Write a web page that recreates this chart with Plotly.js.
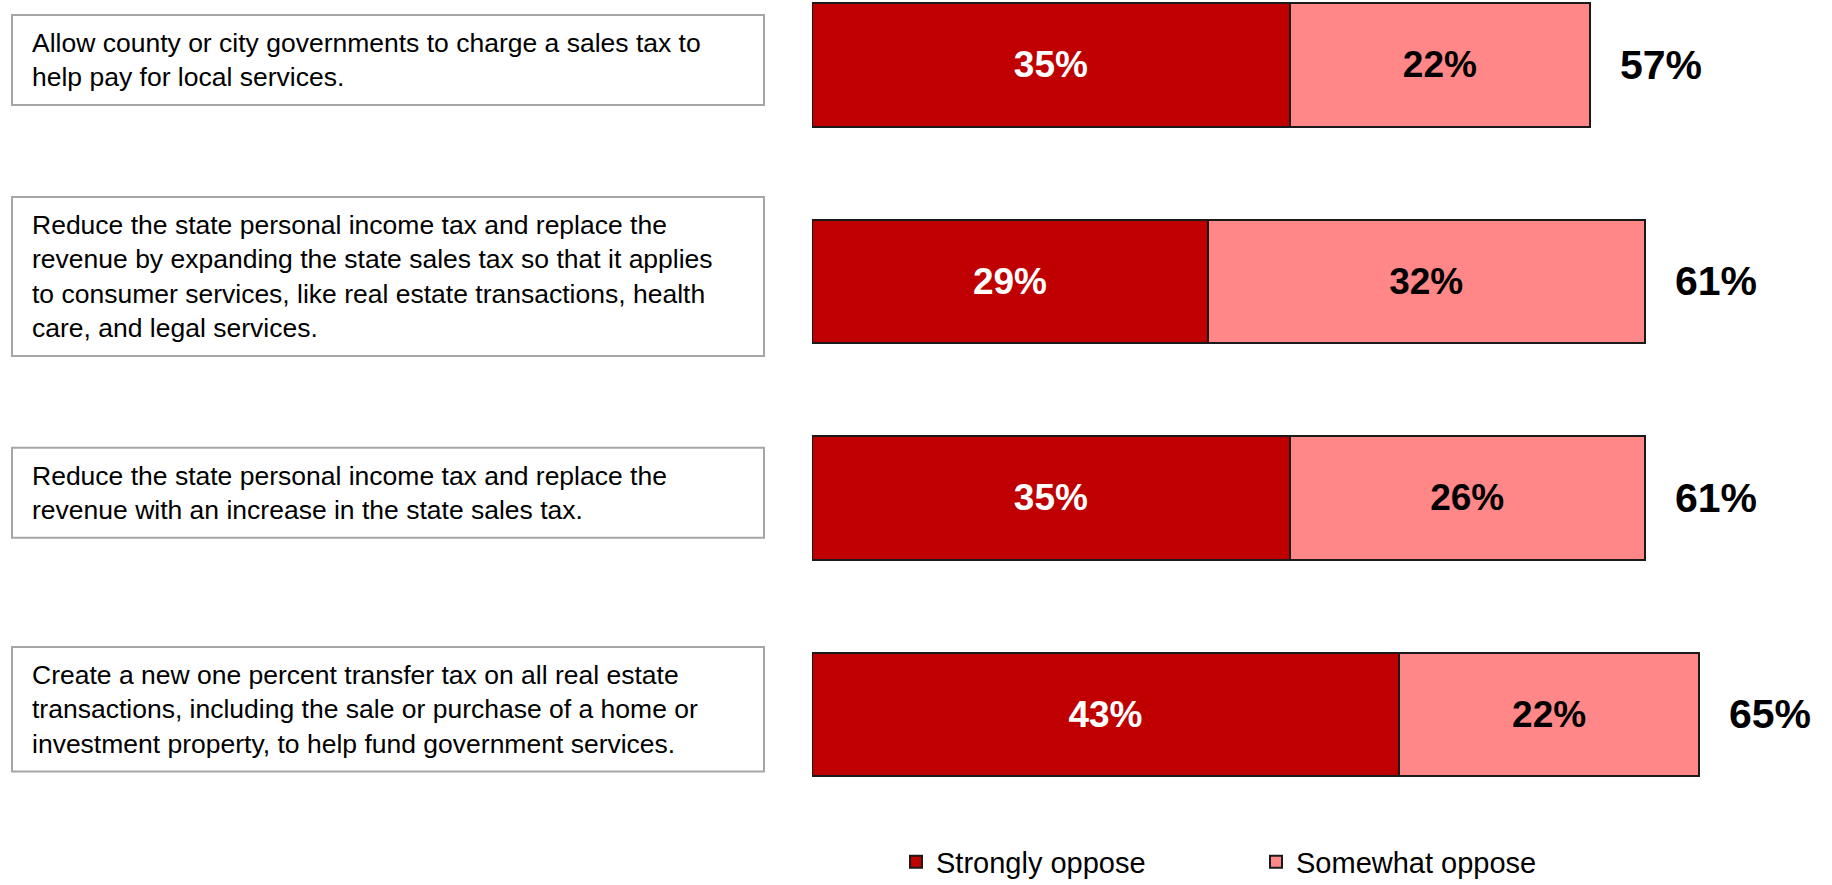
<!DOCTYPE html>
<html>
<head>
<meta charset="utf-8">
<script src="https://cdn.plot.ly/plotly-3.0.1.min.js"></script>
<style>html,body{margin:0;padding:0;background:#fff;}#chart{width:1832px;height:885px;}</style>
</head>
<body>
<div id="chart"></div>
<script>
const categories = [
  "Allow county or city governments to charge a sales tax to<br>help pay for local services.",
  "Reduce the state personal income tax and replace the<br>revenue by expanding the state sales tax so that it applies<br>to consumer services, like real estate transactions, health<br>care, and legal services.",
  "Reduce the state personal income tax and replace the<br>revenue with an increase in the state sales tax.",
  "Create a new one percent transfer tax on all real estate<br>transactions, including the sale or purchase of a home or<br>investment property, to help fund government services."
];
const seriesNames = ["Strongly oppose", "Somewhat oppose"];
const stronglyOppose = [35, 29, 35, 43];
const somewhatOppose = [22, 32, 26, 22];
const totals = [57, 61, 61, 65];

const FONT = "Liberation Sans, Arial, sans-serif";
const W = 1832, H = 885;
const ML = 812, MT = 0, MB = 85;
const PW = W - ML, PH = H - MT - MB;
const yTop = -0.3, yBot = 3.396;
const pxPerCat = PH / (yBot - yTop);

function px2x(px) { return (px - ML) / PW; }
function py2y(py) { return 1 - (py - MT) / PH; }
function catCenterPx(i) { return MT + (i - yTop) * pxPerCat; }

const traces = [
  {
    type: "bar", orientation: "h", name: seriesNames[0],
    y: categories, x: stronglyOppose,
    text: stronglyOppose.map(v => v + "%"),
    textposition: "inside", insidetextanchor: "middle",
    textfont: {family: FONT, size: 37, color: "#ffffff", weight: "bold"},
    marker: {color: "#C00000", line: {color: "#1a1a1a", width: 2}},
    width: 0.57, hoverinfo: "skip"
  },
  {
    type: "bar", orientation: "h", name: seriesNames[1],
    y: categories, x: somewhatOppose,
    text: somewhatOppose.map(v => v + "%"),
    textposition: "inside", insidetextanchor: "middle",
    textfont: {family: FONT, size: 37, color: "#000000", weight: "bold"},
    marker: {color: "#FF8787", line: {color: "#1a1a1a", width: 2}},
    width: 0.57, hoverinfo: "skip"
  }
];

const annotations = [];
const shapes = [];
const LINE = 34.5;
categories.forEach((cat, i) => {
  const lines = cat.split("<br>");
  const cy = catCenterPx(i) - 5;
  const bh = lines.length * LINE + 21;
  shapes.push({
    type: "rect", xref: "paper", yref: "paper",
    x0: px2x(12), x1: px2x(764), y0: py2y(cy - bh / 2), y1: py2y(cy + bh / 2),
    line: {color: "#a6a6a6", width: 2}, fillcolor: "#ffffff", layer: "below"
  });
  lines.forEach((ln, k) => {
    const ly = cy + (k - (lines.length - 1) / 2) * LINE;
    annotations.push({
      xref: "paper", yref: "paper", x: px2x(30), y: py2y(ly),
      xanchor: "left", yanchor: "middle", showarrow: false, align: "left",
      text: ln, font: {family: FONT, size: 26.5, color: "#000000"}
    });
  });
  annotations.push({
    xref: "x", yref: "y", x: totals[i], y: cat,
    xanchor: "left", yanchor: "middle", xshift: 28, showarrow: false,
    text: "<b>" + totals[i] + "%</b>",
    font: {family: FONT, size: 41, color: "#000000"}
  });
});

const layout = {
  width: W, height: H,
  margin: {l: ML, r: 0, t: MT, b: MB, pad: 0, autoexpand: false},
  paper_bgcolor: "#ffffff", plot_bgcolor: "#ffffff",
  barmode: "stack",
  showlegend: true,
  legend: {
    orientation: "h", x: px2x(896), xanchor: "left", y: py2y(862), yanchor: "middle",
    font: {family: FONT, size: 29, color: "#000000"},
    entrywidth: 315, traceorder: "normal", bgcolor: "rgba(0,0,0,0)"
  },
  xaxis: {range: [0, PW / 13.65], showgrid: false, zeroline: false, showticklabels: false, ticks: "", showline: false, fixedrange: true},
  yaxis: {type: "category", categoryorder: "array", categoryarray: categories, range: [yBot, yTop],
          showgrid: false, zeroline: false, showticklabels: false, ticks: "", showline: false, fixedrange: true},
  shapes: shapes,
  annotations: annotations,
  font: {family: FONT}
};

Plotly.newPlot("chart", traces, layout, {displayModeBar: false, staticPlot: true});
</script>
</body>
</html>
